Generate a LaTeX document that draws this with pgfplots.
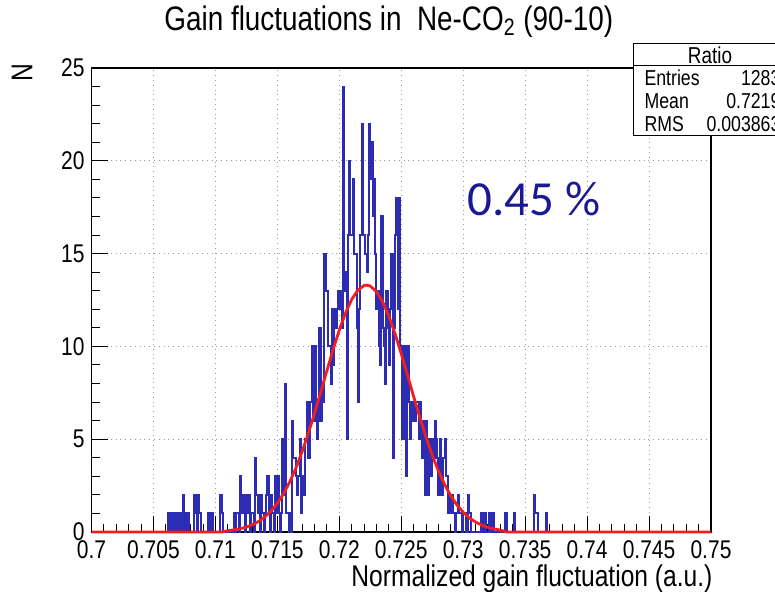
\documentclass[border=0pt]{standalone}
\usepackage{pgfplots}
\pgfplotsset{compat=1.18}
\usepackage{fontspec}
\setmainfont{Liberation Sans}[FakeStretch=0.82]
\newfontfamily\calib{Carlito}
\definecolor{histblue}{RGB}{45,45,180}
\definecolor{fitred}{RGB}{240,30,30}
\definecolor{txtblue}{RGB}{25,25,145}
\begin{document}
\begin{tikzpicture}
\begin{axis}[
  at={(0,0)}, anchor=south west,
  scale only axis, width=309.75pt, height=232pt,
  xmin=0.7, xmax=0.75, ymin=0, ymax=25,
  xtick={0.7,0.705,0.71,0.715,0.72,0.725,0.73,0.735,0.74,0.745,0.75},
  xticklabels={0.7,0.705,0.71,0.715,0.72,0.725,0.73,0.735,0.74,0.745,0.75},
  ytick={0,5,10,15,20,25},
  minor x tick num=4, minor y tick num=4,
  xtick pos=bottom, ytick pos=left,
  tick align=inside,
  major tick length=8pt, minor tick length=4pt,
  grid=major,
  major grid style={dotted, gray!80, line width=0.55pt},
  axis line style={black, line width=0.6pt},
  tick style={black, line width=0.5pt},
  ticklabel style={font=\fontsize{12.8}{12.8}\selectfont},
  /pgf/number format/assume math mode=true,
  xticklabel style={yshift=-1pt},
  every axis title shift=0pt,
  title={Gain fluctuations in \ Ne-CO\textsubscript{2} (90-10)},
  title style={font=\fontsize{17}{17}\selectfont, at={(axis description cs:0.480,1.10)}, anchor=center, yshift=0pt},
  xlabel={Normalized gain fluctuation (a.u.)},
  xlabel style={font=\fontsize{15}{15}\selectfont, at={(axis description cs:1.003,-0.101)}, anchor=east, inner sep=0pt},
  ylabel={N},
  ylabel style={font=\fontsize{15}{15}\selectfont, at={(axis description cs:-0.112,0.991)}, anchor=center, rotate=0},
  clip=false,
]
\addplot[const plot mark left, histblue, line width=1pt, no marks] coordinates {
(0.7000,0)
(0.7060,0)(0.7061,0)(0.7062,1)(0.7063,0)(0.7064,1)(0.7065,1)(0.7066,0)(0.7067,1)(0.7068,0)(0.7069,1)
(0.7070,0)(0.7071,1)(0.7072,0)(0.7073,1)(0.7074,2)(0.7075,0)(0.7076,1)(0.7077,0)(0.7078,1)(0.7079,0)
(0.7080,0)(0.7081,0)(0.7082,0)(0.7083,2)(0.7084,1)(0.7085,0)(0.7086,2)(0.7087,1)(0.7088,0)(0.7089,0)
(0.7090,0)(0.7091,0)(0.7092,0)(0.7093,0)(0.7094,1)(0.7095,1)(0.7096,0)(0.7097,1)(0.7098,0)(0.7099,0)
(0.7100,0)(0.7101,0)(0.7102,0)(0.7103,0)(0.7104,2)(0.7105,1)(0.7106,0)(0.7107,0)(0.7108,0)(0.7109,0)
(0.7110,0)(0.7111,0)(0.7112,0)(0.7113,0)(0.7114,0)(0.7115,1)(0.7116,0)(0.7117,1)(0.7118,1)(0.7119,0)
(0.7120,3)(0.7121,1)(0.7122,2)(0.7123,2)(0.7124,0)(0.7125,2)(0.7126,1)(0.7127,2)(0.7128,0)(0.7129,1)
(0.7130,1)(0.7131,0)(0.7132,4)(0.7133,2)(0.7134,1)(0.7135,2)(0.7136,0)(0.7137,2)(0.7138,1)(0.7139,0)
(0.7140,1)(0.7141,2)(0.7142,3)(0.7143,1)(0.7144,0)(0.7145,2)(0.7146,1)(0.7147,0)(0.7148,3)(0.7149,1)
(0.7150,3)(0.7151,1)(0.7152,0)(0.7153,1)(0.7154,5)(0.7155,2)(0.7156,8)(0.7157,1)(0.7158,1)(0.7159,0)
(0.7160,1)(0.7161,0)(0.7162,6)(0.7163,4)(0.7164,4)(0.7165,3)(0.7166,2)(0.7167,3)(0.7168,5)(0.7169,1)
(0.7170,3)(0.7171,2)(0.7172,5)(0.7173,5)(0.7174,7)(0.7175,4)(0.7176,7)(0.7177,7)(0.7178,10)(0.7179,6)
(0.7180,10)(0.7181,7)(0.7182,5)(0.7183,6)(0.7184,11)(0.7185,6)(0.7186,8)(0.7187,7)(0.7188,15)(0.7189,13)
(0.7190,13)(0.7191,10)(0.7192,10)(0.7193,8)(0.7194,12)(0.7195,9)(0.7196,12)(0.7197,11)(0.7198,12)(0.7199,13)
(0.7200,12)(0.7201,13)(0.7202,11)(0.7203,24)(0.7204,13)(0.7205,14)(0.7206,5)(0.7207,16)(0.7208,20)(0.7209,16)
(0.7210,16)(0.7211,19)(0.7212,15)(0.7213,15)(0.7214,11)(0.7215,7)(0.7216,12)(0.7217,16)(0.7218,22)(0.7219,16)
(0.7220,16)(0.7221,15)(0.7222,14)(0.7223,16)(0.7224,22)(0.7225,19)(0.7226,21)(0.7227,17)(0.7228,19)(0.7229,15)
(0.7230,12)(0.7231,13)(0.7232,10)(0.7233,9)(0.7234,17)(0.7235,11)(0.7236,10)(0.7237,8)(0.7238,13)(0.7239,11)
(0.7240,9)(0.7241,12)(0.7242,15)(0.7243,4)(0.7244,11)(0.7245,16)(0.7246,18)(0.7247,12)(0.7248,18)(0.7249,10)
(0.7250,10)(0.7251,5)(0.7252,10)(0.7253,8)(0.7254,3)(0.7255,10)(0.7256,7)(0.7257,5)(0.7258,7)(0.7259,6)
(0.7260,7)(0.7261,6)(0.7262,7)(0.7263,7)(0.7264,5)(0.7265,7)(0.7266,6)(0.7267,4)(0.7268,6)(0.7269,2)
(0.7270,6)(0.7271,2)(0.7272,5)(0.7273,5)(0.7274,3)(0.7275,5)(0.7276,4)(0.7277,6)(0.7278,5)(0.7279,4)
(0.7280,2)(0.7281,5)(0.7282,4)(0.7283,2)(0.7284,4)(0.7285,5)(0.7286,3)(0.7287,3)(0.7288,1)(0.7289,2)
(0.7290,1)(0.7291,2)(0.7292,1)(0.7293,0)(0.7294,1)(0.7295,1)(0.7296,2)(0.7297,1)(0.7298,1)(0.7299,0)
(0.7300,1)(0.7301,1)(0.7302,0)(0.7303,0)(0.7304,2)(0.7305,1)(0.7306,0)(0.7307,0)(0.7308,0)(0.7309,0)
(0.7310,0)(0.7311,0)(0.7312,0)(0.7313,0)(0.7314,1)(0.7315,1)(0.7316,0)(0.7317,1)(0.7318,0)(0.7319,0)
(0.7320,0)(0.7321,1)(0.7322,0)(0.7323,1)(0.7324,1)(0.7325,0)(0.7326,0)(0.7327,0)(0.7328,0)(0.7329,0)
(0.7330,0)(0.7331,0)(0.7332,0)(0.7333,0)(0.7334,1)(0.7335,0)(0.7336,0)(0.7337,0)(0.7338,0)(0.7339,0)
(0.7340,0)(0.7341,1)(0.7342,0)(0.7343,0)(0.7344,0)(0.7345,0)(0.7346,0)(0.7347,0)(0.7348,0)(0.7349,0)
(0.7350,0)(0.7351,0)(0.7352,0)(0.7353,0)(0.7354,0)(0.7355,0)(0.7356,0)(0.7357,2)(0.7358,1)(0.7359,1)
(0.7360,0)(0.7361,0)(0.7362,0)(0.7363,0)(0.7364,0)(0.7365,0)(0.7366,0)(0.7367,1)(0.7368,0)(0.7369,0)
(0.7370,0)(0.7500,0)
};
\addplot[fitred, line width=1.4pt, no marks] coordinates {
(0.7000,0)(0.7105,0)(0.7110,0.073)(0.7115,0.114)(0.7120,0.177)(0.7125,0.267)(0.7130,0.396)(0.7135,0.574)
(0.7140,0.815)(0.7145,1.134)(0.7150,1.545)(0.7155,2.062)(0.7160,2.696)(0.7165,3.450)(0.7170,4.327)
(0.7175,5.316)(0.7180,6.396)(0.7185,7.536)(0.7190,8.696)(0.7195,9.827)(0.7200,10.878)(0.7205,11.80)
(0.7210,12.53)(0.7215,13.03)(0.7220,13.28)(0.7222,13.30)(0.7225,13.25)(0.7230,12.95)(0.7235,12.40)
(0.7240,11.63)(0.7245,10.68)(0.7250,9.60)(0.7255,8.46)(0.7260,7.30)(0.7265,6.17)(0.7270,5.11)
(0.7275,4.14)(0.7280,3.29)(0.7285,2.56)(0.7290,1.95)(0.7295,1.455)(0.7300,1.064)(0.7305,0.761)
(0.7310,0.534)(0.7315,0.366)(0.7320,0.246)(0.7325,0.163)(0.7330,0.105)(0.7335,0)(0.7500,0)
};
\end{axis}
% statistics box
\draw[black, line width=0.5pt, fill=white] (270.75pt,198pt) rectangle (352pt,244pt);
\draw[black, line width=0.5pt] (270.75pt,233pt) -- (352pt,233pt);
\node[font=\fontsize{11.5}{11.5}\selectfont] at (309.25pt,238.5pt) {Ratio};
\node[font=\fontsize{10.8}{10.8}\selectfont, anchor=west] at (273pt,227pt) {Entries};
\node[font=\fontsize{10.8}{10.8}\selectfont, anchor=west] at (273pt,215.5pt) {Mean};
\node[font=\fontsize{10.8}{10.8}\selectfont, anchor=west] at (273pt,204pt) {RMS};
\node[font=\fontsize{10.8}{10.8}\selectfont, anchor=east] at (348pt,227pt) {1283};
\node[font=\fontsize{10.8}{10.8}\selectfont, anchor=east] at (348pt,215.5pt) {0.7219};
\node[font=\fontsize{10.8}{10.8}\selectfont, anchor=east] at (348pt,204pt) {0.003863};
% annotation
\node[font=\calib\fontsize{24.5}{24.5}\selectfont, text=txtblue] at (221.25pt,166.5pt) {0.45 \%};
\pgfresetboundingbox
\path (-45.75pt,-30pt) rectangle (341.75pt,266pt);
\end{tikzpicture}
\end{document}
